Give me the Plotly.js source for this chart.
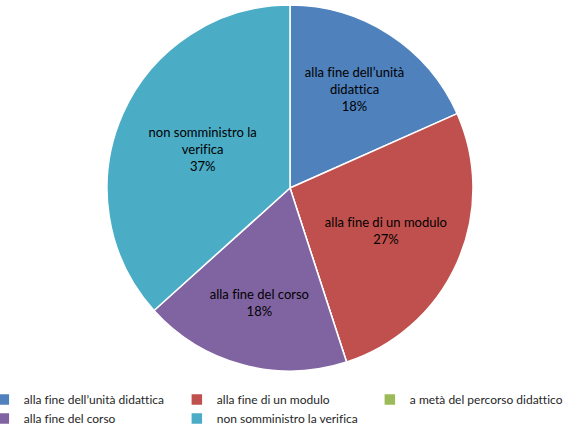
<!DOCTYPE html>
<html><head><meta charset="utf-8">
<script src="https://cdn.plot.ly/plotly-3.0.1.min.js"></script>
<style>html,body{margin:0;padding:0;background:#fff}#c{width:577px;height:431px}
svg text, svg tspan{font-variant-ligatures:none !important;font-feature-settings:"liga" 0,"clig" 0,"dlig" 0 !important}</style>
</head><body><div id="c"></div>
<script>
const categories = ["alla fine dell’unità didattica","alla fine di un modulo","a metà del percorso didattico","alla fine del corso","non somministro la verifica"];
const sliceLabels = ["alla fine dell’unità<br>didattica","alla fine di un modulo","a metà del percorso<br>didattico","alla fine del corso","non somministro la<br>verifica"];
const values = [11, 16, 0, 11, 22];
const colors = ["#4F81BD","#C0504D","#9BBB59","#8064A2","#4BACC6"];

Plotly.newPlot("c", [{
  type: "pie",
  labels: categories,
  values: values,
  text: sliceLabels,
  sort: false,
  direction: "clockwise",
  rotation: 0,
  marker: {colors: colors, line: {color: "#ffffff", width: 1.5}},
  texttemplate: "%{text}<br>%{percent:.0%}",
  textposition: "inside",
  insidetextorientation: "horizontal",
  textfont: {family: "Lato, 'Open Sans', sans-serif", size: 13, color: "#000000"},
  hoverinfo: "none",
  domain: {x: [0.1854, 0.8198], y: [0, 0.9865]}
}], {
  width: 577, height: 431,
  margin: {l: 0, r: 0, t: 0, b: 60, autoexpand: false},
  paper_bgcolor: "#ffffff",
  showlegend: true,
  legend: {
    orientation: "h", x: -0.028, xanchor: "left", y: -0.038, yanchor: "top",
    entrywidth: 148, entrywidthmode: "pixels",
    font: {family: "Lato, 'Open Sans', sans-serif", size: 12, color: "#262626"},
    itemwidth: 30, tracegroupgap: 0
  }
}, {displayModeBar: false, staticPlot: true});
</script></body></html>
